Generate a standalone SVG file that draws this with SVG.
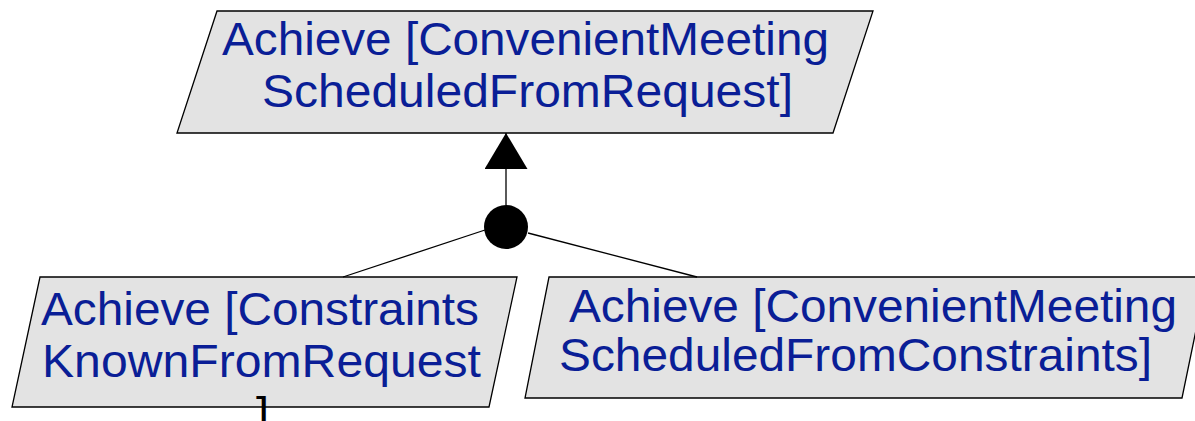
<svg xmlns="http://www.w3.org/2000/svg" width="1195" height="421" viewBox="0 0 1195 421">
  <style>
    .goal { fill: #e3e3e3; stroke: #000; stroke-width: 1.3; }
    .label { font-family: "Liberation Sans", Arial, sans-serif; font-size: 47px; fill: #0a1e96; }
    .edge { fill: none; stroke: #000; stroke-width: 1.3; }
    .refine { fill: #000; }
  </style>
  <defs>
    <marker id="arrowhead" viewBox="0 0 36 43" refX="36" refY="21.5" markerWidth="36" markerHeight="43" markerUnits="userSpaceOnUse" orient="auto">
      <path d="M0,0 L36,21.5 L0,43 Z" fill="#000"/>
    </marker>
  </defs>

  <!-- parent goal -->
  <g id="goal-scheduled-from-request">
    <polygon class="goal" points="217,11 873,11 833,133 177,133"/>
    <text class="label" x="222" y="55" textLength="607" lengthAdjust="spacingAndGlyphs">Achieve [ConvenientMeeting</text>
    <text class="label" x="262" y="107" textLength="531" lengthAdjust="spacingAndGlyphs">ScheduledFromRequest]</text>
  </g>

  <!-- sub-goal: constraints known -->
  <g id="goal-constraints-known">
    <polygon class="goal" points="40,277 517,277 489,407 12,407"/>
    <text class="label" x="41" y="325" textLength="438" lengthAdjust="spacingAndGlyphs">Achieve [Constraints</text>
    <text class="label" x="42" y="377" textLength="439" lengthAdjust="spacingAndGlyphs">KnownFromRequest</text>
    <text class="label" x="256" y="430" style="fill:#000">]</text>
  </g>

  <!-- sub-goal: scheduled from constraints -->
  <g id="goal-scheduled-from-constraints">
    <polygon class="goal" points="549,277 1207,277 1182,398 525,398"/>
    <text class="label" x="569" y="322" textLength="608" lengthAdjust="spacingAndGlyphs">Achieve [ConvenientMeeting</text>
    <text class="label" x="559" y="371" textLength="593" lengthAdjust="spacingAndGlyphs">ScheduledFromConstraints]</text>
  </g>

  <!-- AND-refinement connectors -->
  <g id="connectors">
    <path class="edge" d="M506,205 L506,133" marker-end="url(#arrowhead)"/>
    <path class="edge" d="M485,230 L343,277"/>
    <path class="edge" d="M528,233 L697,277"/>
    <circle id="refinement" class="refine" cx="506" cy="227" r="22"/>
  </g>
</svg>
